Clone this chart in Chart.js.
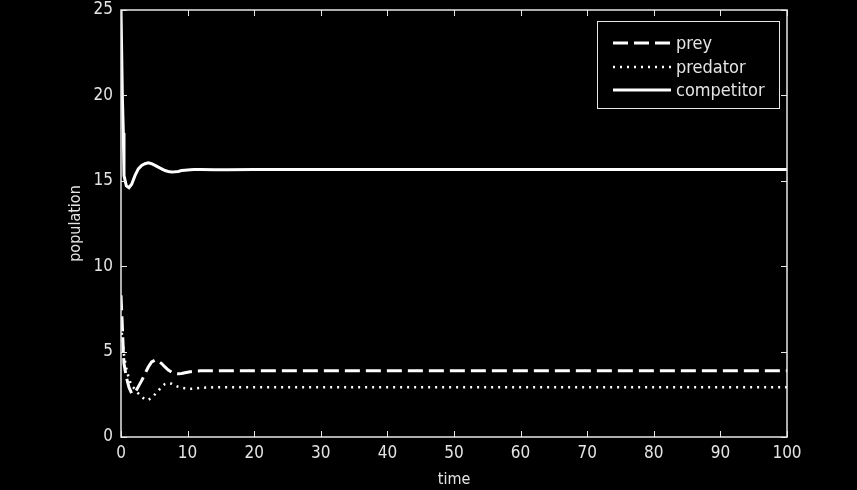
<!DOCTYPE html>
<html>
<head>
<meta charset="utf-8">
<script src="https://cdn.jsdelivr.net/npm/chart.js@4.4.1/dist/chart.umd.min.js"></script>
<style>
  html, body { margin: 0; padding: 0; background: #000; }
  #wrap { width: 857px; height: 490px; position: relative; }
</style>
</head>
<body>
<div id="wrap"><canvas id="c" width="857" height="490"></canvas></div>
<script>
// ---- data ----
const time = [0, 0.2, 0.35, 0.45, 0.8, 1.2, 1.6, 2.1, 2.6, 3.1, 3.6, 4.1, 4.6, 5.1, 5.6, 6.1, 6.6, 7.1, 7.6, 8.1, 8.6, 9.1, 9.6, 10.4, 11, 12, 14, 16, 20, 30, 40, 50, 60, 70, 80, 90, 100];
const prey = [8.3, 6.5, 5.0, 4.3, 3.5, 2.9, 2.56, 2.6, 2.95, 3.3, 3.7, 4.1, 4.4, 4.5, 4.45, 4.3, 4.1, 3.92, 3.8, 3.72, 3.7, 3.72, 3.76, 3.82, 3.86, 3.88, 3.88, 3.88, 3.88, 3.88, 3.88, 3.88, 3.88, 3.88, 3.88, 3.88, 3.88];
const predator = [6.5, 5.8, 5.2, 4.8, 4.0, 3.4, 3.0, 2.8, 2.55, 2.36, 2.2, 2.17, 2.3, 2.5, 2.7, 2.95, 3.1, 3.16, 3.12, 3.02, 2.94, 2.88, 2.85, 2.82, 2.84, 2.88, 2.91, 2.91, 2.91, 2.91, 2.91, 2.91, 2.91, 2.91, 2.91, 2.91, 2.91];
const competitor = [25, 20, 17.8, 15.3, 14.7, 14.6, 14.8, 15.3, 15.7, 15.9, 16.0, 16.05, 16.0, 15.9, 15.8, 15.7, 15.6, 15.55, 15.52, 15.53, 15.55, 15.6, 15.62, 15.65, 15.66, 15.66, 15.65, 15.65, 15.66, 15.66, 15.66, 15.66, 15.66, 15.66, 15.66, 15.66, 15.66];
const seriesNames = ['prey', 'predator', 'competitor'];
const xTicks = [0, 10, 20, 30, 40, 50, 60, 70, 80, 90, 100];
const yTicks = [0, 5, 10, 15, 20, 25];
const xLabel = 'time';
const yLabel = 'population';

const FONT = '"Liberation Sans Narrow", "DejaVu Sans Condensed", "Liberation Sans", sans-serif';
const TEXT = '#e4e4e4';

const toPts = (arr) => time.map((t, i) => ({ x: t, y: arr[i] }));

const styles = [
  { borderDash: [15, 6], borderWidth: 3 },
  { borderDash: [2, 5], borderWidth: 2.5 },
  { borderDash: [], borderWidth: 3 }
];
const seriesData = [prey, predator, competitor];

const datasets = seriesNames.map((name, i) => ({
  label: name,
  data: toPts(seriesData[i]),
  borderColor: '#ffffff',
  backgroundColor: '#ffffff',
  borderWidth: styles[i].borderWidth,
  borderDash: styles[i].borderDash,
  pointRadius: 0,
  tension: 0,
  fill: false
}));

const boxPlugin = {
  id: 'matlabBox',
  afterDraw(chart) {
    const { ctx, chartArea: a, scales } = chart;
    ctx.save();
    ctx.strokeStyle = '#e8e8e8';
    ctx.lineWidth = 1.5;
    ctx.setLineDash([]);
    ctx.strokeRect(a.left, a.top, a.right - a.left, a.bottom - a.top);
    const tl = 6;
    ctx.lineWidth = 1;
    ctx.beginPath();
    xTicks.forEach(v => {
      const px = Math.round(scales.x.getPixelForValue(v)) + 0.5;
      ctx.moveTo(px, a.bottom); ctx.lineTo(px, a.bottom - tl);
      ctx.moveTo(px, a.top); ctx.lineTo(px, a.top + tl);
    });
    yTicks.forEach(v => {
      const py = Math.round(scales.y.getPixelForValue(v)) + 0.5;
      ctx.moveTo(a.left, py); ctx.lineTo(a.left + tl, py);
      ctx.moveTo(a.right, py); ctx.lineTo(a.right - tl, py);
    });
    ctx.stroke();

    // legend
    const lx = 597, ly = 21, lw = 182, lh = 87;
    ctx.fillStyle = '#000';
    ctx.fillRect(lx, ly, lw, lh);
    ctx.strokeStyle = '#e8e8e8';
    ctx.lineWidth = 1;
    ctx.strokeRect(lx + 0.5, ly + 0.5, lw, lh);
    const rows = [43, 67, 90];
    ctx.font = '18px ' + FONT;
    ctx.textBaseline = 'middle';
    ctx.textAlign = 'left';
    datasets.forEach((d, i) => {
      ctx.strokeStyle = '#fff';
      ctx.lineWidth = d.borderWidth;
      ctx.setLineDash(d.borderDash);
      ctx.beginPath();
      ctx.moveTo(613, rows[i]); ctx.lineTo(671, rows[i]);
      ctx.stroke();
      ctx.setLineDash([]);
      ctx.fillStyle = TEXT;
      ctx.fillText(d.label, 676, rows[i] + 1);
    });
    ctx.restore();
  }
};

new Chart(document.getElementById('c'), {
  type: 'line',
  data: { datasets },
  plugins: [boxPlugin],
  options: {
    responsive: false,
    animation: false,
    layout: { padding: { top: 10, right: 70, left: 0, bottom: 0 } },
    plugins: { legend: { display: false }, tooltip: { enabled: false } },
    scales: {
      x: {
        type: 'linear', min: 0, max: 100,
        afterBuildTicks: (s) => { s.ticks = xTicks.map(v => ({ value: v })); },
        afterFit: (s) => { s.height = 53; s.paddingLeft = 0; s.paddingRight = 0; },
        grid: { display: false, drawTicks: false },
        border: { display: false },
        ticks: { color: TEXT, font: { family: FONT, size: 17 }, padding: 6, maxRotation: 0 },
        title: { display: true, text: xLabel, color: TEXT, font: { family: FONT, size: 16 }, padding: { top: 0, bottom: 1 } }
      },
      y: {
        type: 'linear', min: 0, max: 25,
        afterBuildTicks: (s) => { s.ticks = yTicks.map(v => ({ value: v })); },
        afterFit: (s) => { s.width = 121; s.paddingTop = 0; s.paddingBottom = 0; },
        grid: { display: false, drawTicks: false },
        border: { display: false },
        ticks: { color: TEXT, font: { family: FONT, size: 17 }, padding: 8 },
        title: { display: true, text: yLabel, color: TEXT, font: { family: FONT, size: 16 }, padding: { top: 66, bottom: 0 } }
      }
    }
  }
});
</script>
</body>
</html>
